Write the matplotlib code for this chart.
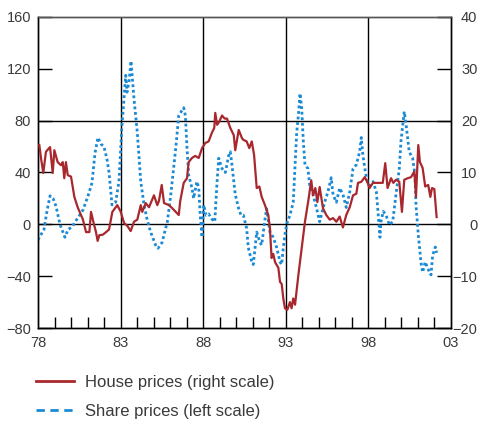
import matplotlib
matplotlib.use("Agg")
import matplotlib.pyplot as plt
from matplotlib.lines import Line2D
from matplotlib.ticker import MultipleLocator

plt.rcParams['font.family'] = ['Liberation Sans', 'DejaVu Sans']

# Share prices, % change on a year earlier (left scale)
share_t = [1978.00, 1978.18, 1978.36, 1978.54, 1978.73, 1978.91, 1979.09, 1979.33, 1979.63, 1979.82,
           1980.06, 1980.36, 1980.72, 1981.03, 1981.27, 1981.45, 1981.63, 1981.81, 1981.99, 1982.18,
           1982.30, 1982.48, 1982.70, 1982.90, 1983.08, 1983.31, 1983.39, 1983.51, 1983.63, 1983.81,
           1984.01, 1984.22, 1984.42, 1984.60, 1984.82, 1985.12, 1985.26, 1985.51, 1985.83, 1986.03,
           1986.34, 1986.52, 1986.82, 1986.92, 1987.02, 1987.12, 1987.32, 1987.42, 1987.62, 1987.73,
           1987.82, 1987.93, 1988.03, 1988.17, 1988.33, 1988.53, 1988.70, 1988.84, 1988.94, 1989.14,
           1989.34, 1989.54, 1989.64, 1989.74, 1989.94, 1990.15, 1990.29, 1990.43, 1990.63, 1990.73,
           1990.94, 1991.03, 1991.24, 1991.44, 1991.54, 1991.74, 1991.84, 1992.04, 1992.24, 1992.45,
           1992.65, 1992.75, 1992.85, 1992.95, 1993.05, 1993.25, 1993.45, 1993.56, 1993.66, 1993.76,
           1993.86, 1993.96, 1994.06, 1994.16, 1994.34, 1994.45, 1994.65, 1994.85, 1995.05, 1995.15,
           1995.35, 1995.55, 1995.75, 1995.86, 1996.06, 1996.26, 1996.46, 1996.66, 1996.87, 1997.07,
           1997.27, 1997.47, 1997.57, 1997.67, 1997.81, 1997.93, 1998.07, 1998.28, 1998.48, 1998.56,
           1998.70, 1998.76, 1998.90, 1999.07, 1999.27, 1999.47, 1999.67, 1999.87, 1999.97, 2000.17,
           2000.28, 2000.47, 2000.68, 2000.82, 2000.88, 2001.02, 2001.18, 2001.28, 2001.44, 2001.59,
           2001.79, 2001.89, 2002.05, 2002.13]
share_v = [-12, -8, -4, 10, 22, 20, 14, 0, -10, -4,
           -2, 4, 11, 22, 32, 55, 67, 62, 60, 50,
           40, 15, 17, 33, 76, 115, 102, 110, 126, 97,
           71, 33, 15, 4, -6, -16, -18.5, -14, 2, 22,
           59, 84, 90, 84, 59, 38, 28, 20, 33, 28,
           7, -10, 15, 7, 8, 4, 2, 33, 51, 43,
           40, 53, 56, 46, 23, 12, 7, 7, -3, -18,
           -29, -31, -6, -14, -16, 4, 12, -6, -10, -18,
           -29, -31, -18, -8, 0, 7, 17, 46, 71, 84,
           101, 90, 64, 46, 43, 30, 23, 13, 2, 7,
           17, 25, 36, 23, 17, 28, 23, 13, 25, 43,
           46, 56, 67, 53, 41, 33, 30, 33, 25, 13,
           -10, 2, 10, 7, -0.5, 2, 23, 43, 64, 87,
           77, 56, 51, 38, 15, -8, -29, -37, -29, -34,
           -39, -24, -17.5, -22]

# House prices, % change on a year earlier (right scale)
house_t = [1978.08, 1978.18, 1978.32, 1978.48, 1978.73, 1978.89, 1978.99, 1979.19, 1979.39, 1979.50,
           1979.59, 1979.69, 1979.80, 1980.00, 1980.20, 1980.40, 1980.60, 1980.71, 1980.91, 1981.11,
           1981.21, 1981.35, 1981.51, 1981.61, 1981.71, 1981.92, 1982.12, 1982.30, 1982.50, 1982.80,
           1983.01, 1983.21, 1983.41, 1983.61, 1983.81, 1984.01, 1984.22, 1984.31, 1984.52, 1984.72,
           1985.02, 1985.22, 1985.32, 1985.49, 1985.63, 1985.93, 1986.13, 1986.34, 1986.52, 1986.61,
           1986.82, 1987.02, 1987.12, 1987.32, 1987.52, 1987.73, 1987.93, 1988.13, 1988.33, 1988.53,
           1988.67, 1988.73, 1988.84, 1988.97, 1989.14, 1989.30, 1989.44, 1989.64, 1989.85, 1989.94,
           1990.15, 1990.35, 1990.43, 1990.63, 1990.79, 1990.94, 1991.08, 1991.24, 1991.40, 1991.54,
           1991.74, 1991.94, 1992.04, 1992.14, 1992.24, 1992.35, 1992.55, 1992.65, 1992.75, 1992.85,
           1992.95, 1993.09, 1993.25, 1993.35, 1993.45, 1993.56, 1993.76, 1993.96, 1994.16, 1994.36,
           1994.54, 1994.65, 1994.79, 1994.91, 1995.05, 1995.25, 1995.45, 1995.66, 1995.86, 1996.06,
           1996.26, 1996.46, 1996.66, 1996.87, 1997.07, 1997.27, 1997.37, 1997.57, 1997.78, 1997.93,
           1998.07, 1998.28, 1998.48, 1998.66, 1998.87, 1999.02, 1999.16, 1999.37, 1999.51, 1999.67,
           1999.87, 2000.03, 2000.17, 2000.38, 2000.58, 2000.78, 2000.88, 2001.02, 2001.12, 2001.28,
           2001.44, 2001.62, 2001.75, 2001.85, 2001.99, 2002.13]
house_v = [15.3, 12.8, 9.9, 14.0, 14.9, 9.9, 14.3, 12.0, 11.4, 12.0,
           8.9, 12.0, 9.5, 9.2, 5.3, 3.3, 1.8, 1.0, -1.5, -1.5,
           2.4, 0.5, -1.5, -3.2, -2.1, -2.0, -1.5, -1.0, 2.4, 3.7,
           2.4, 0.25, -0.3, -1.3, 0.5, 0.9, 3.7, 2.4, 4.1, 3.3,
           5.6, 3.7, 4.5, 7.6, 4.1, 3.7, 3.1, 2.4, 1.8, 4.5,
           8.0, 8.9, 12.0, 12.8, 13.2, 12.8, 14.7, 15.7, 16.0, 17.7,
           18.6, 21.5, 19.2, 19.8, 21.0, 20.4, 20.4, 18.6, 17.2, 14.3,
           18.2, 16.6, 16.3, 16.0, 14.7, 16.0, 13.4, 7.0, 7.3, 5.3,
           3.7, 1.8, -0.8, -6.5, -5.7, -7.3, -8.4, -11.1, -11.5, -14.3,
           -16.2, -16.5, -15.0, -16.2, -14.3, -15.5, -9.8, -4.6, 0.5, 4.5,
           8.5, 5.6, 7.0, 4.3, 7.2, 3.1, 1.8, 0.9, 1.2, 0.5,
           1.5, -0.6, 1.8, 3.3, 5.6, 5.9, 8.0, 8.2, 9.1, 8.2,
           7.0, 8.0, 8.0, 8.0, 8.0, 11.8, 7.0, 8.9, 8.0, 8.6,
           8.2, 2.4, 8.6, 8.9, 9.1, 10.2, 5.3, 15.3, 12.0, 10.9,
           7.3, 7.6, 5.3, 7.0, 6.8, 1.4]

year_ticks = [1978, 1983, 1988, 1993, 1998, 2003]
year_labels = ['78', '83', '88', '93', '98', '03']
left_ticks = [-80, -40, 0, 40, 80, 120, 160]
right_ticks = [-20, -10, 0, 10, 20, 30, 40]

red = '#a8282d'
blue = '#1a8ad4'
txt = '#3a3a3a'

fig = plt.figure(figsize=(4.8, 4.23), dpi=100)
ax = fig.add_axes([38 / 480, 1 - 328 / 423, 413 / 480, 311 / 423])
ax2 = ax.twinx()

ax.set_xlim(1978, 2003)
ax.set_ylim(-80, 160)
ax2.set_ylim(-20, 40)

# reference lines
for yr in year_ticks[1:-1]:
    ax.axvline(yr, color='black', lw=1.0, zorder=1)
for lv in (0, 80):
    ax.axhline(lv, color='black', lw=1.0, zorder=1)

ax.plot(share_t, share_v, color=blue, lw=2.0, linestyle=(0, (1, 1)), zorder=3)
ax2.plot(house_t, house_v, color=red, lw=1.6, zorder=4)

ax.set_xticks(year_ticks)
ax.set_xticklabels(year_labels)
ax.xaxis.set_minor_locator(MultipleLocator(1))
ax.set_yticks(left_ticks)
ax2.set_yticks(right_ticks)

ax.tick_params(axis='x', which='both', direction='in', length=8, width=1, colors='black',
               labelcolor=txt, labelsize=10.5, pad=6)
ax.tick_params(axis='x', which='major', length=0)
ax.tick_params(axis='y', direction='in', length=10, width=1, colors='black',
               labelcolor=txt, labelsize=10.5, pad=5)
ax2.tick_params(axis='y', direction='in', length=10, width=1, colors='black',
                labelcolor=txt, labelsize=10.5, pad=19)
for lbl in ax2.get_yticklabels():
    lbl.set_horizontalalignment('right')

for a in (ax, ax2):
    for side, sp in a.spines.items():
        sp.set_linewidth(1.0)
        sp.set_color('black')
ax.spines['top'].set_color('#555555')
ax2.spines['top'].set_color('#555555')

handles = [Line2D([], [], color=red, lw=2.0),
           Line2D([], [], color=blue, lw=2.0, linestyle=(0, (3, 2)))]
labels = ['House prices (right scale)', 'Share prices (left scale)']
fig.legend(handles, labels, loc='upper left', bbox_to_anchor=(36 / 480, 1 - 375 / 423),
           frameon=False, fontsize=12, handlelength=2.25, handletextpad=0.7,
           labelspacing=0.82, labelcolor=txt, borderpad=0, borderaxespad=0)

fig.savefig('out.png', dpi=100)
